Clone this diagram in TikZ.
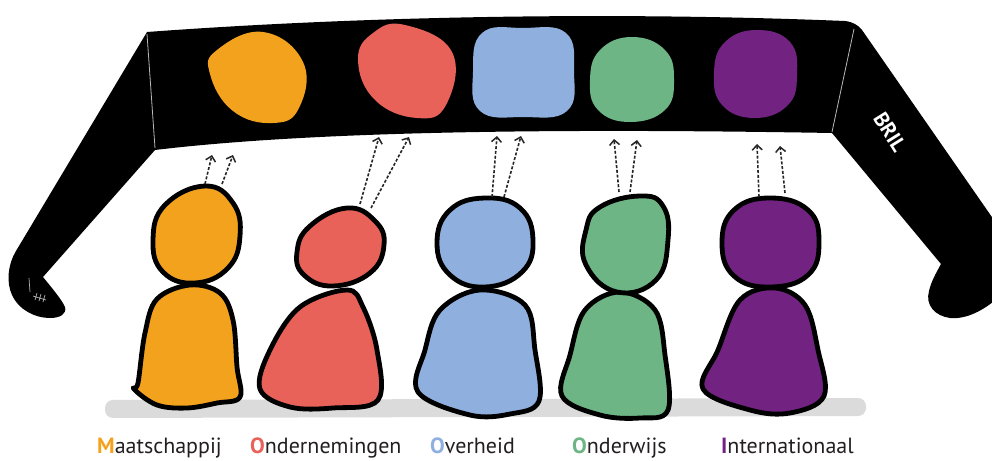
\documentclass[tikz,border=0pt]{standalone}
\usepackage{fontspec}
\setmainfont{PT Sans}
\usetikzlibrary{arrows.meta}

\definecolor{cOrange}{RGB}{243,162,29}
\definecolor{cRed}{RGB}{232,98,89}
\definecolor{cBlue}{RGB}{143,176,222}
\definecolor{cGreen}{RGB}{110,181,134}
\definecolor{cPurple}{RGB}{114,35,130}
\definecolor{cText}{RGB}{35,31,32}

\tikzset{
  outline/.style={draw=black, line width=4.8pt, line join=round},
  blob/.style={smooth cycle, tension=0.75},
  gaze/.style={draw=black!85, line width=1.6pt, dash pattern=on 3pt off 1.8pt,
    -{Straight Barb[length=5pt,width=10pt,line width=1.5pt]}},
  caption/.style={anchor=base west, inner sep=0pt, text=cText,
    font=\fontsize{22}{22}\selectfont},
  fold/.style={draw=gray!55, line width=0.8pt}
}

\begin{document}
\begin{tikzpicture}[x=1pt, y=-1pt]
\useasboundingbox (0,0) rectangle (992,460);
\clip (0,0) rectangle (992,460);

% ground shadow
\fill[gray!28] (105,400) [rounded corners=8pt] -- (866,398) -- (866,416) -- (105,418) -- cycle;

% glasses frame with both arms
\fill[black] (147,32) .. controls (350,17) and (600,11) .. (845,21)
  .. controls (853,22) and (858,25) .. (862,30)
  -- (1012,246) -- (1012,282)
  .. controls (995,305) and (970,320) .. (950,318)
  .. controls (935,316) and (925,305) .. (929,291)
  .. controls (931,282) and (936,273) .. (941,264)
  -- (832,133)
  .. controls (600,129) and (330,129) .. (155,150)
  -- (43,277)
  .. controls (52,288) and (62,300) .. (65,307)
  .. controls (67,314) and (60,318) .. (50,318)
  .. controls (35,318) and (19,310) .. (12,295)
  .. controls (6,282) and (8,264) .. (16,251)
  -- cycle;
\draw[fold] (147,34) -- (155,148);
\draw[fold] (854,29) -- (832,132);
% hinge scribble on the left arm
\draw[gray!60, line width=0.7pt] (29,278) -- (30,292) (33,296) -- (46,300)
  (37,293) -- (35,300) (41,294) -- (39,301) (45,295) -- (43,302);

% lenses
\fill[cOrange] plot[blob] coordinates {(217,50) (263,32) (303,62) (299,108) (273,123) (233,111) (210,74)};
\fill[cRed] plot[blob] coordinates {(373,33) (405,25) (452,52) (446,105) (417,118) (375,100) (358,60)};
\fill[cBlue] plot[blob] coordinates {(482,33) (523,28) (566,33) (574,72) (567,111) (523,117) (480,111) (473,72)};
\fill[cGreen] plot[blob] coordinates {(632,37) (665,50) (674,80) (665,110) (630,122) (598,110) (590,80) (600,50)};
\fill[cPurple] plot[blob] coordinates {(757,30) (790,42) (797,75) (788,105) (755,118) (722,105) (714,72) (725,42)};

% label on the right arm
\node[rotate=-58, text=white, font=\bfseries\fontsize{21}{21}\selectfont, inner sep=0pt] (bril) at (890,132) {BRIL};

% people: bodies first, heads on top
% Maatschappij
\path[outline, fill=cOrange] plot[smooth cycle, tension=0.6] coordinates {(190,285) (157,299) (145,333) (138,383) (134,389) (157,405) (187,408) (217,403) (240,397) (237,367) (233,320) (220,293)};
\path[outline, fill=cOrange] plot[blob] coordinates {(205,186) (233,203) (240,236) (228,268) (195,283) (163,272) (153,240) (165,205)};
% Ondernemingen
\path[outline, fill=cRed] plot[smooth cycle, tension=0.6] coordinates {(347,290) (300,307) (270,350) (260,389) (290,407) (333,408) (378,400) (377,350) (363,307)};
\path[outline, fill=cRed] plot[blob] coordinates {(310,226) (347,208) (375,221) (384,245) (370,273) (333,286) (304,275) (297,252)};
% Overheid
\path[outline, fill=cBlue] plot[smooth cycle, tension=0.6] coordinates {(480,290) (440,310) (425,350) (418,392) (470,415) (510,414) (539,401) (535,350) (525,305)};
\path[outline, fill=cBlue] plot[blob] coordinates {(485,198) (520,208) (533,240) (522,272) (485,287) (450,275) (437,243) (450,210)};
% Onderwijs
\path[outline, fill=cGreen] plot[smooth cycle, tension=0.6] coordinates {(620,292) (585,310) (570,355) (562,396) (600,415) (640,418) (668,410) (665,355) (655,310)};
\path[outline, fill=cGreen] plot[blob] coordinates {(640,196) (663,206) (668,240) (656,280) (617,292) (586,265) (586,230) (600,207)};
% Internationaal
\path[outline, fill=cPurple] plot[smooth cycle, tension=0.6] coordinates {(775,288) (740,300) (718,350) (703,389) (750,410) (790,413) (824,396) (818,350) (805,305)};
\path[outline, fill=cPurple] plot[blob] coordinates {(770,198) (808,210) (819,242) (808,275) (770,287) (734,276) (722,243) (734,210)};

% gaze arrows from each head up to the frame
\coordinate (o1s) at (205,184); \coordinate (o1e) at (212,155);
\coordinate (o2s) at (222,184); \coordinate (o2e) at (233,155);
\coordinate (r1s) at (360,204); \coordinate (r1e) at (379,137);
\coordinate (r2s) at (371,208); \coordinate (r2e) at (409,137);
\coordinate (b1s) at (492,197); \coordinate (b1e) at (497,136);
\coordinate (b2s) at (504,197); \coordinate (b2e) at (521,136);
\coordinate (g1s) at (619,192); \coordinate (g1e) at (614,139);
\coordinate (g2s) at (630,192); \coordinate (g2e) at (637,140);
\coordinate (p1s) at (759,197); \coordinate (p1e) at (757,144);
\coordinate (p2s) at (785,193); \coordinate (p2e) at (780,146);
\foreach \a in {o1,o2,r1,r2,b1,b2,g1,g2,p1,p2}
  \draw[gaze] (\a s) -- (\a e);

% captions
\node[caption] (lm) at (97,453) {{\color{cOrange}\bfseries M}aatschappij};
\node[caption] (lo) at (250,453) {{\color{cRed}\bfseries O}ndernemingen};
\node[caption] (lv) at (430,453) {{\color{cBlue}\bfseries O}verheid};
\node[caption] (lw) at (572,453) {{\color{cGreen}\bfseries O}nderwijs};
\node[caption] (li) at (721,453) {{\color{cPurple}\bfseries I}nternationaal};
\end{tikzpicture}
\end{document}
